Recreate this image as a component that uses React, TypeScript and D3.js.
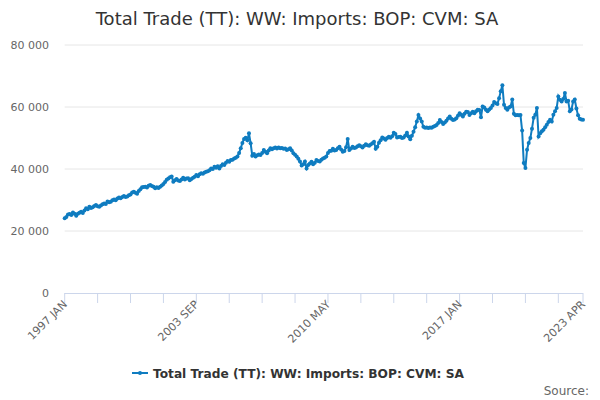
import * as d3 from 'd3';

const TITLE = 'Total Trade (TT): WW: Imports: BOP: CVM: SA';
const MONTHS = ['JAN', 'FEB', 'MAR', 'APR', 'MAY', 'JUN', 'JUL', 'AUG', 'SEP', 'OCT', 'NOV', 'DEC'];
const START_YEAR = 1997;

// monthly values, £ million, 1997 JAN .. 2023 APR
const v1997 = [24100, 24500, 25300, 25500, 25200, 26000, 25600, 24900, 25600, 25900, 26200, 25800];
const v1998 = [26600, 27300, 27000, 27800, 27400, 27700, 28100, 28400, 28000, 27800, 28200, 28600];
const v1999 = [28900, 28700, 29500, 29300, 29400, 29900, 30200, 29900, 30500, 30800, 30600, 31000];
const v2000 = [31300, 31000, 31100, 31500, 31800, 32400, 32700, 32300, 32000, 32900, 33500, 34100];
const v2001 = [34200, 34300, 34000, 34600, 34800, 34500, 34300, 33800, 34100, 33900, 34300, 34700];
const v2002 = [35200, 35800, 36500, 36900, 37300, 37600, 35900, 36400, 36800, 36300, 36100, 36600];
const v2003 = [37200, 36600, 36900, 37000, 36400, 36800, 37200, 37500, 38100, 37700, 38300, 38600];
const v2004 = [38500, 38900, 39100, 39300, 39600, 40200, 40000, 40700, 40400, 40900, 40200, 41000];
const v2005 = [41500, 41300, 42000, 42600, 42300, 42900, 43000, 43400, 43600, 44000, 45200, 46700];
const v2006 = [48400, 49700, 50100, 49300, 51500, 48300, 44300, 44800, 44000, 44400, 44700, 44500];
const v2007 = [45200, 46100, 45600, 45100, 46000, 46700, 46400, 46700, 46900, 46600, 46900, 46700];
const v2008 = [46800, 46500, 46600, 46100, 46400, 46700, 46000, 45100, 44600, 44000, 43300, 42400];
const v2009 = [41100, 41500, 42400, 40200, 41300, 41800, 42300, 41500, 42000, 42900, 42600, 42400];
const v2010 = [43000, 43400, 43600, 44000, 45200, 45800, 45900, 46500, 46000, 46100, 46700, 47200];
const v2011 = [46300, 45600, 45800, 47000, 49700, 46100, 46600, 47200, 46800, 46900, 47300, 47700];
const v2012 = [47300, 46900, 47500, 48000, 47700, 47500, 47900, 48300, 48800, 46500, 47200, 48500];
const v2013 = [49300, 50200, 49800, 49400, 50000, 50400, 50100, 50600, 51700, 51300, 50200, 50300];
const v2014 = [50400, 50000, 50200, 50800, 51700, 50500, 49600, 50700, 52000, 53500, 55300, 57400];
const v2015 = [56300, 55300, 53600, 53300, 53400, 53200, 53400, 53300, 53600, 53900, 54200, 54800];
const v2016 = [55800, 55200, 54500, 55000, 55600, 56300, 56900, 56200, 55800, 56000, 56400, 57200];
const v2017 = [58000, 57500, 56900, 57800, 58500, 58400, 57400, 58000, 58500, 58000, 58600, 59100];
const v2018 = [59000, 56700, 60200, 59800, 59100, 58600, 59200, 59700, 60500, 61600, 61200, 61000];
const v2019 = [62800, 65100, 67000, 60700, 59700, 59100, 59800, 60200, 62400, 57800, 57300, 57400];
const v2020 = [57300, 57400, 52400, 41900, 40300, 46200, 48400, 50000, 53000, 56500, 57500, 59700];
const v2021 = [50500, 51500, 52200, 52700, 53500, 54300, 55200, 55900, 55300, 57500, 58600, 59700];
const v2022 = [63400, 62300, 61800, 62600, 64500, 61800, 62000, 58600, 59200, 61800, 62400, 59500];
const v2023 = [57300, 56200, 56000, 55900];

const VALUES = [
  ...v1997, ...v1998, ...v1999, ...v2000, ...v2001, ...v2002, ...v2003, ...v2004, ...v2005,
  ...v2006, ...v2007, ...v2008, ...v2009, ...v2010, ...v2011, ...v2012, ...v2013, ...v2014,
  ...v2015, ...v2016, ...v2017, ...v2018, ...v2019, ...v2020, ...v2021, ...v2022, ...v2023,
];

const CATEGORIES = VALUES.map((_, i) => `${START_YEAR + Math.floor(i / 12)} ${MONTHS[i % 12]}`);
const Y_TICKS = [0, 20000, 40000, 60000, 80000];

const W = 600;
const H = 400;
const LEFT = 64.7;
const RIGHT = 583;
const TOP = 45;
const BOTTOM = 293;
const BLUE = '#0f7cc0';
const FONT = '"DejaVu Sans", Verdana, sans-serif';

const fmt = (v: number) => d3.format(',')(v).replace(/,/g, ' ');

export default function App() {
  const x = d3.scaleLinear().domain([0, VALUES.length - 1]).range([LEFT, RIGHT]);
  const y = d3.scaleLinear().domain([0, 80000]).range([BOTTOM, TOP]);

  const line = d3.line<number>()
    .x((_, i) => x(i))
    .y(d => y(d));

  const tickIdx = d3.range(0, VALUES.length, 20).concat([VALUES.length - 1]);
  const labelIdx = [0, 80, 160, 240, VALUES.length - 1];

  return (
    <svg width={W} height={H} style={{ position: 'absolute', left: 0, top: 0, fontFamily: FONT }}>
      <rect width={W} height={H} fill="#fff" />
      <text x={297} y={25} textAnchor="middle" fontSize={18} fill="#333">{TITLE}</text>

      {Y_TICKS.map(t => (
        <g key={t}>
          {t > 0 && <line x1={LEFT} x2={RIGHT} y1={y(t)} y2={y(t)} stroke="#e6e6e6" />}
          <text x={49} y={y(t) + 4} textAnchor="end" fontSize={11} fill="#666">{fmt(t)}</text>
        </g>
      ))}

      <line x1={LEFT} x2={RIGHT} y1={BOTTOM + 0.5} y2={BOTTOM + 0.5} stroke="#ccd6eb" />
      {tickIdx.map(i => (
        <line key={i} x1={x(i)} x2={x(i)} y1={BOTTOM} y2={BOTTOM + 10} stroke="#ccd6eb" />
      ))}
      {labelIdx.map(i => (
        <text key={i} transform={`translate(${x(i) + 3},${BOTTOM + 12}) rotate(-45)`}
          textAnchor="end" fontSize={11} fill="#666">{CATEGORIES[i]}</text>
      ))}

      <path d={line(VALUES) ?? ''} fill="none" stroke={BLUE} strokeWidth={2} />
      {VALUES.map((v, i) => (
        <circle key={i} cx={x(i)} cy={y(v)} r={2} fill={BLUE} />
      ))}

      <g transform="translate(132,373)">
        <line x1={0} x2={16} y1={0} y2={0} stroke={BLUE} strokeWidth={2} />
        <circle cx={8} cy={0} r={2} fill={BLUE} />
        <text x={21} y={4.5} fontSize={12.2} fontWeight="bold" fill="#333">{TITLE}</text>
      </g>
      <text x={589} y={395} textAnchor="end" fontSize={12} fill="#666">Source:</text>
    </svg>
  );
}
